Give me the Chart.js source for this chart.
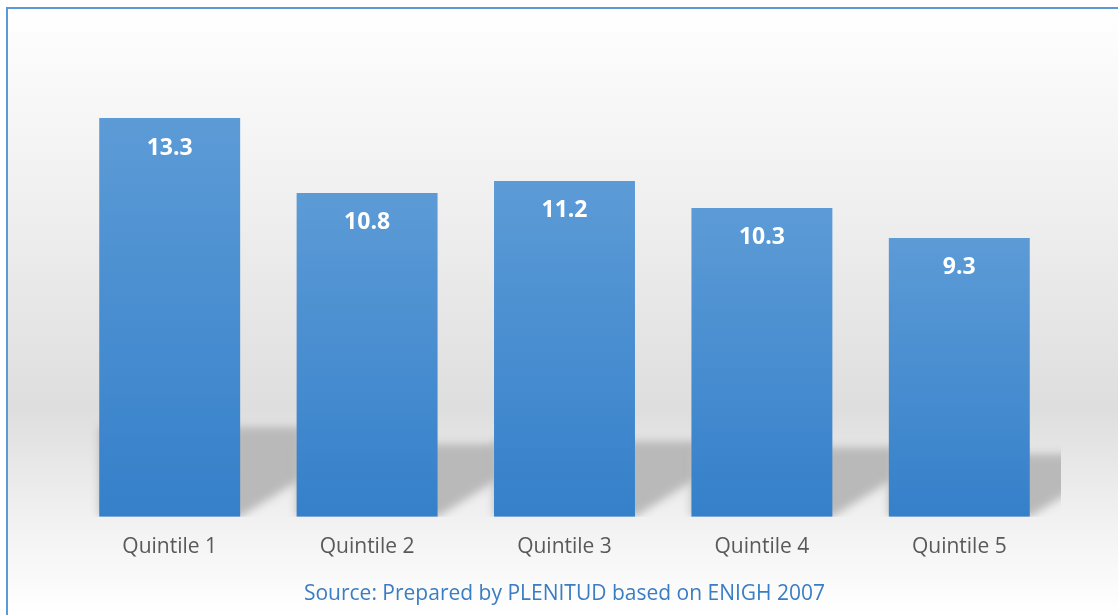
<!DOCTYPE html>
<html>
<head>
<meta charset="utf-8">
<script src="https://cdn.jsdelivr.net/npm/chart.js@4"></script>
<style>
    html, body { margin: 0; padding: 0; background: #ffffff; overflow: hidden; }
    #wrap { position: absolute; left: 0; top: 0; width: 1118px; height: 615px; }
    #frame { position: absolute; left: 6px; top: 7px; width: 1130px; height: 640px;
             border: 2px solid #5b9bd5; pointer-events: none; }
</style>
</head>
<body>
<div id="wrap">
    <canvas id="quintileChart" width="1118" height="615"></canvas>
    <div id="frame"></div>
</div>
<script>
// chart values
var categories = ["Quintile 1", "Quintile 2", "Quintile 3", "Quintile 4", "Quintile 5"];
var values = [13.3, 10.8, 11.2, 10.3, 9.3];
var sourceText = "Source: Prepared by PLENITUD based on ENIGH 2007";

/*===================================================
        PLUGINS: background, shadows, labels
===================================================*/

var backgroundPlugin = {
    id: 'backgroundPlugin',
    beforeDraw: function(chart) {
        var c = chart.ctx;
        var g = c.createLinearGradient(0, 8, 0, 615);
        g.addColorStop(0, '#ffffff');
        g.addColorStop(0.08, '#fbfbfb');
        g.addColorStop(0.35, '#eeeeee');
        g.addColorStop(0.66, '#dedede');
        g.addColorStop(0.84, '#f1f1f1');
        g.addColorStop(1, '#ffffff');
        c.save();
        c.fillStyle = '#ffffff';
        c.fillRect(0, 0, chart.width, chart.height);
        c.fillStyle = g;
        c.fillRect(8, 9, chart.width, chart.height);
        c.restore();
    }
};

var shadowPlugin = {
    id: 'shadowPlugin',
    beforeDatasetsDraw: function(chart) {
        var c = chart.ctx;
        var area = chart.chartArea;
        var bars = chart.getDatasetMeta(0).data;
        c.save();
        c.beginPath();
        c.rect(area.left, area.top, area.right - area.left + 3, area.bottom - area.top);
        c.clip();
        c.filter = 'blur(4px)';
        c.fillStyle = '#b9b9b9';
        for (var i = 0; i < bars.length; i++) {
            var b = bars[i];
            var h = b.base - b.y;
            var left = b.x - b.width / 2;
            var right = b.x + b.width / 2;
            var top = b.base - h * 0.225;
            var dx = 62;
            c.beginPath();
            c.moveTo(left, b.base);
            c.lineTo(left, top);
            c.lineTo(right + dx, top);
            c.lineTo(right + dx, b.base - dx * 0.62);
            c.lineTo(right, b.base);
            c.closePath();
            c.fill();
        }
        c.restore();
    }
};

var labelPlugin = {
    id: 'labelPlugin',
    afterDatasetsDraw: function(chart) {
        var c = chart.ctx;
        var bars = chart.getDatasetMeta(0).data;
        c.save();
        c.fillStyle = '#ffffff';
        c.font = 'bold 23px "Open Sans"';
        c.textAlign = 'center';
        c.textBaseline = 'middle';
        for (var i = 0; i < bars.length; i++) {
            c.fillText(values[i].toFixed(1), bars[i].x, bars[i].y + 30);
        }
        c.restore();
    }
};

function barGradient(context) {
    var chart = context.chart;
    if (!chart.chartArea) {
        return '#4a90d2';
    }
    var y = chart.scales.y;
    var yTop = y.getPixelForValue(values[context.dataIndex]);
    var yBase = y.getPixelForValue(0);
    var g = chart.ctx.createLinearGradient(0, yTop, 0, yBase);
    g.addColorStop(0, '#5c9bd6');
    g.addColorStop(1, '#3580ca');
    return g;
}

/*===================================================
                BAR CHART
===================================================*/

var getQuintileChart = document.getElementById("quintileChart").getContext('2d');
var quintileChart = new Chart(getQuintileChart, {
    type: 'bar',
    data: {
        labels: categories,
        datasets: [{
            data: values,
            backgroundColor: barGradient,
            borderWidth: 0,
            categoryPercentage: 1,
            barPercentage: 0.714
        }]
    },
    plugins: [backgroundPlugin, shadowPlugin, labelPlugin],
    options: {
        responsive: false,
        animation: false,
        layout: {
            padding: { left: 71, right: 60, top: 37, bottom: 0 }
        },
        plugins: {
            legend: { display: false },
            tooltip: { enabled: false },
            title: {
                display: true,
                position: 'bottom',
                text: sourceText,
                color: '#3a7dc2',
                font: { family: '"Open Sans"', size: 21, weight: 'normal' },
                padding: { top: 12, bottom: 8 }
            }
        },
        scales: {
            y: {
                display: false,
                min: 0,
                max: 16
            },
            x: {
                grid: { display: false, drawTicks: false },
                border: { display: false },
                ticks: {
                    color: '#595959',
                    font: { family: '"Open Sans"', size: 21 },
                    padding: 18
                },
                afterFit: function(scale) {
                    scale.height = 53;
                }
            }
        }
    }
});
</script>
</body>
</html>
